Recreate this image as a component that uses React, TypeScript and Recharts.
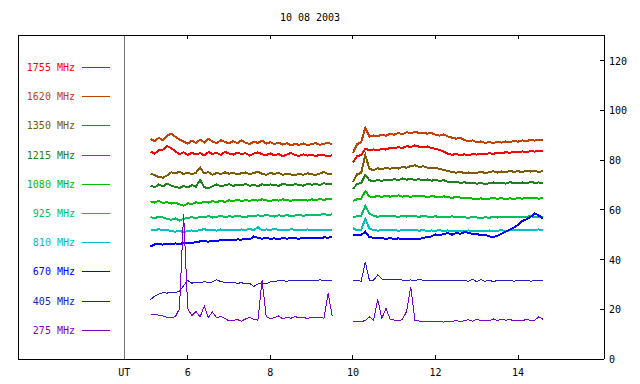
import React from "react";
import { LineChart, Line, XAxis, YAxis, ReferenceLine, Legend } from "recharts";

// hours UT; 9.75 is the data gap between the two recording blocks
const TIMES = [
  5.1, 5.2, 5.3, 5.4, 5.5, 5.6, 5.7, 5.8, 5.9, 6.0,
  6.1, 6.2, 6.3, 6.4, 6.5, 6.6, 6.7, 6.8, 6.9, 7.0,
  7.1, 7.2, 7.3, 7.4, 7.5, 7.6, 7.7, 7.8, 7.9, 8.0,
  8.1, 8.2, 8.3, 8.4, 8.5, 8.6, 8.7, 8.8, 8.9, 9.0,
  9.1, 9.2, 9.3, 9.4, 9.5,
  9.75,
  10.0, 10.1, 10.2, 10.3, 10.4, 10.5, 10.6, 10.7, 10.8, 10.9,
  11.0, 11.1, 11.2, 11.3, 11.4, 11.5, 11.6, 11.7, 11.8, 11.9,
  12.0, 12.1, 12.2, 12.3, 12.4, 12.5, 12.6, 12.7, 12.8, 12.9,
  13.0, 13.1, 13.2, 13.3, 13.4, 13.5, 13.6, 13.7, 13.8, 13.9,
  14.0, 14.1, 14.2, 14.3, 14.4, 14.5, 14.6,
];

const MHZ_1755 = [
  83.4, 82.6, 83.9, 84.2, 85.6, 84.8, 83.5, 82.4, 83.1, 82.0,
  83.0, 82.2, 82.8, 81.9, 83.2, 82.5, 82.9, 82.1, 83.3, 82.6,
  82.2, 83.0, 82.4, 82.8, 81.8, 82.6, 83.1, 82.3, 82.0, 82.7,
  81.9, 82.4, 81.6, 82.2, 82.9, 82.0, 81.7, 82.3, 81.8, 82.1,
  81.6, 82.2, 81.9, 81.5, 82.0,
  null,
  79.0, 81.6, 82.0, 84.5, 84.0, 84.3, 83.9, 84.6, 84.2, 85.0,
  84.7, 85.2, 84.9, 85.6, 85.3, 85.9, 85.4, 85.1, 85.5, 84.8,
  84.6, 84.0, 83.4, 82.6, 82.1, 82.5, 82.0, 82.3, 81.9, 82.4,
  82.2, 82.6, 82.3, 82.8, 82.5, 83.0, 82.7, 83.2, 82.9, 83.4,
  83.1, 83.5, 83.2, 83.6, 83.4, 83.8, 83.6,
];

const MHZ_1620 = [
  88.5, 87.6, 88.9, 88.0, 89.8, 90.6, 89.4, 88.2, 87.5, 86.6,
  87.8, 86.9, 88.2, 87.1, 88.6, 87.4, 86.8, 88.0, 87.3, 86.7,
  87.6, 86.8, 87.9, 87.0, 86.5, 87.4, 86.9, 87.8, 86.6, 87.2,
  86.4, 87.0, 86.2, 86.8, 85.9, 86.5, 86.1, 86.7, 86.0, 86.4,
  86.8, 86.1, 86.6, 86.9, 86.4,
  null,
  82.8, 86.4, 87.2, 93.0, 89.4, 89.9, 89.5, 90.3, 89.8, 90.6,
  90.2, 90.9, 90.4, 91.2, 90.8, 91.4, 90.9, 91.1, 90.6, 90.9,
  90.2, 89.8, 90.3, 89.5, 89.0, 88.6, 88.9, 88.1, 87.6, 87.9,
  87.2, 87.5, 86.9, 87.3, 86.8, 87.4, 87.0, 87.5, 87.2, 87.7,
  87.4, 87.9, 87.6, 88.1, 87.8, 88.2, 88.0,
];

const MHZ_1350 = [
  74.6, 73.9, 73.2, 72.9, 73.8, 75.1, 74.7, 75.3, 74.4, 75.0,
  74.3, 74.9, 77.0, 74.6, 75.2, 74.1, 74.8, 74.4, 75.1, 74.5,
  74.9, 74.2, 74.7, 75.0, 74.3, 74.8, 75.3, 74.5, 74.1, 74.8,
  74.4, 74.9, 74.0, 74.6, 74.2, 73.9, 74.5, 74.1, 74.7, 74.3,
  74.0, 74.6, 75.2, 74.3, 74.5,
  null,
  71.2, 74.3, 74.8, 82.0, 76.4, 76.0, 76.7, 76.3, 76.9, 76.5,
  77.0, 76.6, 77.3, 76.9, 77.6, 77.9, 77.2, 77.5, 77.0, 76.8,
  76.9, 76.4, 76.0, 75.6, 75.2, 74.9, 75.3, 74.7, 75.0, 74.6,
  74.9, 75.3, 74.8, 75.1, 75.5, 75.0, 75.4, 75.1, 75.6, 75.3,
  75.5, 75.2, 75.7, 75.4, 75.6, 75.3, 75.5,
];

const MHZ_1215 = [
  69.8, 69.0, 70.2, 69.4, 70.6, 69.7, 69.2, 68.8, 69.6, 69.0,
  69.9, 69.3, 72.0, 69.1, 68.7, 69.5, 70.2, 69.4, 69.9, 70.3,
  69.6, 70.1, 69.8, 70.4, 69.7, 70.0, 69.5, 70.3, 69.9, 70.2,
  70.0, 69.6, 70.4, 70.1, 69.8, 70.3, 70.0, 69.7, 70.5, 70.1,
  70.4, 70.0, 70.7, 70.3, 70.5,
  null,
  68.4, 70.3, 70.8, 74.0, 71.9, 71.4, 72.0, 71.6, 72.2, 71.8,
  72.4, 71.9, 72.6, 72.1, 72.5, 72.0, 72.3, 71.8, 72.2, 71.7,
  72.0, 71.6, 71.9, 71.3, 71.0, 71.4, 70.8, 71.1, 70.6, 70.9,
  70.5, 70.8, 70.3, 70.7, 71.0, 70.6, 70.9, 70.5, 71.1, 70.8,
  70.6, 71.0, 70.7, 71.2, 70.9, 71.0, 70.8,
];

const MHZ_1080 = [
  63.4, 62.9, 63.6, 62.8, 63.1, 62.5, 62.9, 62.2, 61.6, 62.6,
  62.4, 63.0, 62.7, 63.3, 62.9, 63.5, 63.1, 63.6, 63.2, 63.8,
  63.4, 64.1, 63.5, 63.9, 63.6, 64.0, 63.7, 64.2, 63.8, 63.6,
  64.0, 63.7, 64.2, 63.9, 63.6, 64.1, 63.8, 64.0, 63.7, 64.2,
  63.9, 64.3, 64.0, 64.4, 64.1,
  null,
  63.6, 64.2, 64.5, 67.5, 65.4, 65.1, 65.6, 65.2, 65.7, 65.3,
  65.5, 65.8, 65.3, 65.6, 65.2, 65.7, 65.4, 65.6, 65.1, 65.5,
  65.3, 65.0, 65.4, 65.1, 64.8, 65.2, 64.9, 64.6, 64.9, 64.5,
  64.3, 64.6, 64.2, 64.5, 64.8, 64.4, 64.7, 64.3, 64.6, 64.4,
  64.7, 64.5, 64.8, 64.6, 64.9, 64.5, 64.7,
];

const MHZ_925 = [
  57.1, 56.6, 57.3, 56.9, 56.4, 56.0, 56.5, 55.7, 56.3, 56.8,
  57.0, 56.6, 57.3, 57.0, 57.5, 56.9, 57.2, 57.6, 57.1, 57.4,
  57.2, 57.7, 57.3, 57.0, 57.6, 57.4, 57.8, 57.5, 57.9, 57.6,
  57.3, 57.8, 57.5, 57.9, 57.4, 57.7, 58.0, 57.6, 57.9, 58.1,
  57.7, 58.0, 58.3, 57.9, 58.2,
  null,
  57.1, 57.4, 57.6, 61.5, 58.4, 57.6, 57.2, 57.5, 57.3, 57.6,
  57.4, 57.2, 57.5, 57.3, 57.7, 57.4, 57.2, 57.5, 57.3, 57.1,
  57.4, 57.0, 57.3, 57.1, 57.4, 56.9, 57.2, 57.0, 56.8, 57.1,
  56.9, 56.7, 57.0, 56.8, 57.1, 56.9, 57.2, 57.0, 57.3, 57.1,
  57.3, 57.0, 57.2, 57.4, 57.1, 57.3, 57.2,
];

const MHZ_810 = [
  52.1, 51.8, 52.2, 51.7, 51.9, 51.4, 51.2, 51.6, 50.9, 51.5,
  51.7, 51.4, 51.9, 52.2, 51.8, 52.0, 51.6, 52.1, 51.9, 51.7,
  52.0, 51.8, 52.1, 51.9, 52.3, 51.8, 53.0, 51.7, 52.1, 51.9,
  52.4, 51.9, 52.0, 51.8, 52.2, 51.9, 52.0, 51.8, 52.1, 51.9,
  52.0, 51.8, 52.1, 51.9, 52.0,
  null,
  52.6, 51.8, 52.0, 56.3, 52.4, 51.9, 51.6, 51.8, 52.0, 51.7,
  51.9, 51.6, 51.8, 52.0, 51.7, 51.9, 51.6, 51.8, 51.5, 51.7,
  51.6, 51.8, 51.5, 51.7, 51.4, 51.6, 51.3, 51.5, 51.7, 51.4,
  51.6, 51.3, 51.5, 51.7, 51.4, 51.6, 51.8, 51.5, 51.7, 51.9,
  51.7, 51.9, 51.8, 52.0, 51.8, 52.1, 51.9,
];

const MHZ_670 = [
  45.2, 46.1, 46.3, 46.0, 46.4, 46.2, 46.5, 46.3, 46.6, 46.8,
  46.7, 47.0, 47.3, 47.4, 47.2, 47.6, 47.5, 47.8, 47.7, 47.9,
  47.8, 48.1, 48.0, 48.3, 48.1, 49.3, 48.7, 48.4, 48.6, 48.4,
  48.5, 48.3, 48.6, 48.4, 48.7, 48.5, 48.4, 48.6, 48.8, 48.5,
  48.7, 48.6, 48.9, 48.8, 49.0,
  null,
  50.0, 49.7, 49.9, 51.2, 49.0, 48.8, 48.5, 48.7, 48.3, 48.6,
  48.3, 48.5, 48.2, 48.3, 48.1, 48.4, 48.2, 48.7, 49.0, 49.3,
  50.1, 49.8, 50.3, 50.6, 50.0, 50.7, 50.4, 51.0, 50.8, 50.2,
  50.3, 49.7, 50.0, 49.3, 49.0, 49.6, 50.4, 51.2, 52.0, 52.9,
  54.0, 55.5, 56.2, 57.1, 58.6, 57.7, 56.6,
];

const MHZ_405 = [
  23.9, 25.3, 26.1, 26.7, 26.5, 26.9, 26.8, 27.2, 29.5, 31.6,
  30.5, 30.9, 30.6, 31.1, 30.7, 31.0, 31.9, 31.1, 30.8, 30.6,
  30.9, 30.4, 30.7, 30.2, 30.4, 29.2, 30.1, 30.6, 30.3, 31.0,
  31.3, 31.4, 31.5, 31.3, 31.5, 31.6, 31.4, 31.6, 31.5, 31.7,
  31.6, 31.8, 31.7, 31.5, 31.6,
  null,
  31.4, 31.5, 31.3, 39.0, 31.6, 31.7, 33.8, 32.2, 31.9, 32.1,
  31.8, 32.0, 31.7, 31.5, 31.8, 31.6, 31.9, 31.7, 31.4, 31.6,
  31.5, 31.7, 31.6, 31.4, 31.5, 31.7, 31.6, 31.5, 31.3, 32.0,
  31.1, 31.9, 31.2, 31.8, 31.0, 31.7, 31.4, 31.6, 31.5, 31.3,
  31.5, 31.4, 31.6, 31.3, 31.5, 31.4, 31.5,
];

const MHZ_275 = [
  17.7, 17.9, 17.6, 17.3, 16.7, 16.5, 17.0, 20.2, 58.3, 20.3,
  17.5, 19.1, 16.9, 21.3, 16.7, 18.9, 16.6, 17.1, 16.3, 15.3,
  15.5, 15.9, 15.2, 16.1, 16.8, 16.0, 15.6, 31.7, 17.0, 16.2,
  16.6, 17.3, 16.1, 16.9, 16.4, 17.1, 16.5, 16.7, 16.3, 16.8,
  16.5, 16.7, 16.4, 26.5, 17.2,
  null,
  14.9, 15.3, 15.0, 15.5, 16.9, 15.6, 24.1, 16.3, 20.4, 16.0,
  15.7, 15.4, 15.9, 19.2, 28.9, 15.6, 15.3, 15.1, 15.0, 15.2,
  14.9, 15.1, 14.8, 15.3, 15.0, 15.5, 15.1, 15.4, 15.8, 15.2,
  16.0, 15.3, 15.7, 15.4, 16.1, 15.5, 15.9, 15.6, 15.8, 15.5,
  15.7, 15.4, 15.9, 15.6, 15.5, 17.0, 16.0,
];

const SERIES_NAMES = [
  "1755 MHz", "1620 MHz", "1350 MHz", "1215 MHz", "1080 MHz",
  "925 MHz", "810 MHz", "670 MHz", "405 MHz", "275 MHz",
];
const SERIES_COLORS = [
  "#ff0000", "#c84000", "#805a00", "#208020", "#00c000",
  "#00c060", "#00c0c0", "#0000ff", "#2020c0", "#8000c8",
];
const SERIES_VALUES = [
  MHZ_1755, MHZ_1620, MHZ_1350, MHZ_1215, MHZ_1080,
  MHZ_925, MHZ_810, MHZ_670, MHZ_405, MHZ_275,
];

const UT_HOUR = 4.465;
const HOUR_TICKS = [UT_HOUR, 6, 8, 10, 12, 14];
const TOP_TICKS = [6, 8, 10, 12, 14];
const FLUX_TICKS = [0, 20, 40, 60, 80, 100, 120];
const X_DOMAIN = [1.89, 16.08];
const Y_DOMAIN = [0, 130.3];

const FONT = '"DejaVu Sans Mono", monospace';

const data = TIMES.map((t, i) => {
  const row: Record<string, number | null> = { t };
  SERIES_VALUES.forEach((vals, k) => {
    row["s" + k] = vals[i];
  });
  return row;
});

function BottomTick({ x, y, payload }: any) {
  const isUt = payload.value === UT_HOUR;
  return (
    <g>
      {!isUt && <line x1={x} x2={x} y1={y} y2={y - 4} stroke="#000" />}
      <text x={x} y={y + 17} textAnchor="middle" fontFamily={FONT} fontSize={10} fill="#000">
        {isUt ? "UT" : payload.value}
      </text>
    </g>
  );
}

function TopTick({ x, y }: any) {
  return <line x1={x} x2={x} y1={y} y2={y + 4} stroke="#000" />;
}

function RightTick({ x, y, payload }: any) {
  return (
    <g>
      <line x1={x - 4} x2={x} y1={y} y2={y} stroke="#000" />
      <text x={x + 5} y={y + 4} textAnchor="start" fontFamily={FONT} fontSize={10} fill="#000">
        {payload.value}
      </text>
    </g>
  );
}

function LegendBlock({ payload }: any) {
  return (
    <div style={{ position: "relative", fontFamily: FONT, fontSize: 10 }}>
      {(payload || []).map((entry: any, i: number) => (
        <div
          key={entry.value}
          style={{
            position: "absolute",
            top: i * 29.2,
            left: 0,
            height: 29.2,
            display: "flex",
            alignItems: "center",
          }}
        >
          <span style={{ width: 75, textAlign: "right", color: entry.color }}>{entry.value}</span>
          <span style={{ marginLeft: 7, width: 28, height: 1, background: entry.color }} />
        </div>
      ))}
    </div>
  );
}

export default function App() {
  return (
    <div
      style={{
        position: "absolute",
        left: 0,
        top: 0,
        width: 640,
        height: 384,
        background: "#fff",
        shapeRendering: "crispEdges",
      }}
    >
      <div
        style={{
          position: "absolute",
          top: 12,
          left: 0,
          width: 620,
          textAlign: "center",
          fontFamily: FONT,
          fontSize: 10,
          color: "#000",
        }}
      >
        10 08 2003
      </div>
      <LineChart width={640} height={384} data={data} margin={{ top: 30, right: 0, bottom: 0, left: 18 }}>
        <XAxis
          dataKey="t"
          type="number"
          domain={X_DOMAIN}
          ticks={HOUR_TICKS}
          interval={0}
          height={25}
          tickSize={0}
          tickMargin={0}
          tickLine={false}
          axisLine={{ stroke: "#000" }}
          tick={BottomTick}
          allowDataOverflow
        />
        <XAxis
          xAxisId="top"
          orientation="top"
          dataKey="t"
          type="number"
          domain={X_DOMAIN}
          ticks={TOP_TICKS}
          interval={0}
          height={5}
          tickSize={0}
          tickMargin={0}
          tickLine={false}
          axisLine={{ stroke: "#000" }}
          tick={TopTick}
          allowDataOverflow
        />
        <YAxis
          orientation="right"
          type="number"
          domain={Y_DOMAIN}
          ticks={FLUX_TICKS}
          interval={0}
          width={36}
          tickSize={0}
          tickMargin={0}
          tickLine={false}
          axisLine={{ stroke: "#000" }}
          tick={RightTick}
          allowDataOverflow
        />
        <ReferenceLine x={X_DOMAIN[0]} stroke="#000" />
        <ReferenceLine x={UT_HOUR} stroke="#707070" />
        {SERIES_NAMES.map((name, k) => (
          <Line
            key={name}
            dataKey={"s" + k}
            name={name}
            type="linear"
            stroke={SERIES_COLORS[k]}
            strokeWidth={k < 8 ? 2 : 1}
            dot={false}
            connectNulls={false}
            isAnimationActive={false}
          />
        ))}
        <Legend
          layout="vertical"
          align="center"
          verticalAlign="middle"
          itemSorter="dataKey"
          content={LegendBlock}
          wrapperStyle={{ left: 0, top: 53, width: 120, height: 300 }}
        />
      </LineChart>
    </div>
  );
}
